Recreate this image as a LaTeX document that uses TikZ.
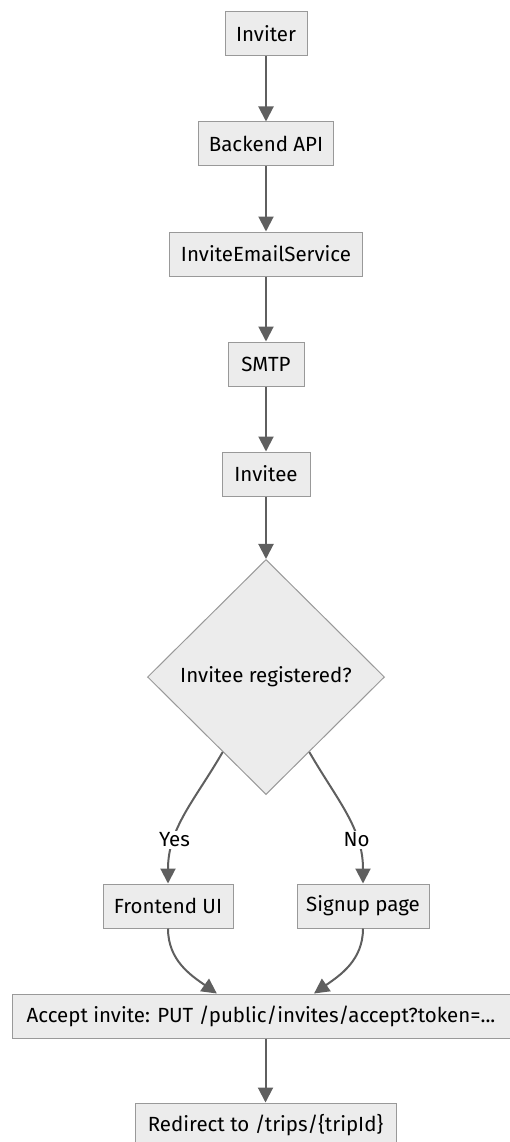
\documentclass[tikz,border=0pt]{standalone}
\usepackage{fontspec}
\setmainfont{Fira Sans}
\usetikzlibrary{shapes.geometric,arrows.meta}

\definecolor{boxfill}{HTML}{ECECEC}
\definecolor{boxline}{HTML}{999999}
\definecolor{flowline}{HTML}{5F5F5F}

\begin{document}
\begin{tikzpicture}[x=1pt,y=-1pt,>={Triangle[length=15pt,width=15pt]},
    flow/.style={->,color=flowline,line width=2pt},
    box node/.style={rectangle,draw=boxline,line width=1pt,fill=boxfill,minimum height=44pt,inner xsep=8pt,inner ysep=0pt,font=\fontsize{20.5}{24}\selectfont},
    ask node/.style={diamond,draw=boxline,line width=1pt,fill=boxfill,minimum width=237pt,minimum height=235pt,inner sep=0pt,font=\fontsize{20.5}{24}\selectfont},
    answer/.style={fill=white,text=black,inner sep=2pt,font=\fontsize{20.5}{24}\selectfont}]
    \useasboundingbox (0,0) rectangle (510,1142);

    \node[box node, minimum width=82pt] (inv) at (266,34) {Inviter};
    \node[box node, minimum width=135pt] (api) at (266,144) {Backend API};
    \node[box node, minimum width=193pt] (mail) at (266,254) {InviteEmailService};
    \node[box node, minimum width=76pt] (smtp) at (266,364) {SMTP};
    \node[box node, minimum width=88pt] (inee) at (266,474) {Invitee};
    \node[ask node] (reg) at (266,677) {Invitee registered?};
    \node[box node, minimum width=130pt] (ui) at (168,906) {Frontend UI};
    \node[box node, minimum width=132pt] (sign) at (363,906) {Signup page};
    \node[box node, minimum width=498pt] (acc) at (261,1016) {Accept invite: PUT /public/invites/accept?token=...};
    \node[box node, minimum width=261pt] (redir) at (265.5,1125) {Redirect to /trips/\{tripId\}};

    \path[flow]
        (inv) edge (api)
        (api) edge (mail)
        (mail) edge (smtp)
        (smtp) edge (inee)
        (inee) edge (reg)
        (reg.240) edge[out=240,in=90] node[answer,pos=0.7] {Yes} (ui)
        (reg.300) edge[out=300,in=90] node[answer,pos=0.7] {No} (sign)
        (ui) edge[out=-90,in=145] (acc.153)
        (sign) edge[out=-90,in=35] (acc.23)
        (acc.south -| redir.north) edge (redir)
        ;
\end{tikzpicture}
\end{document}
